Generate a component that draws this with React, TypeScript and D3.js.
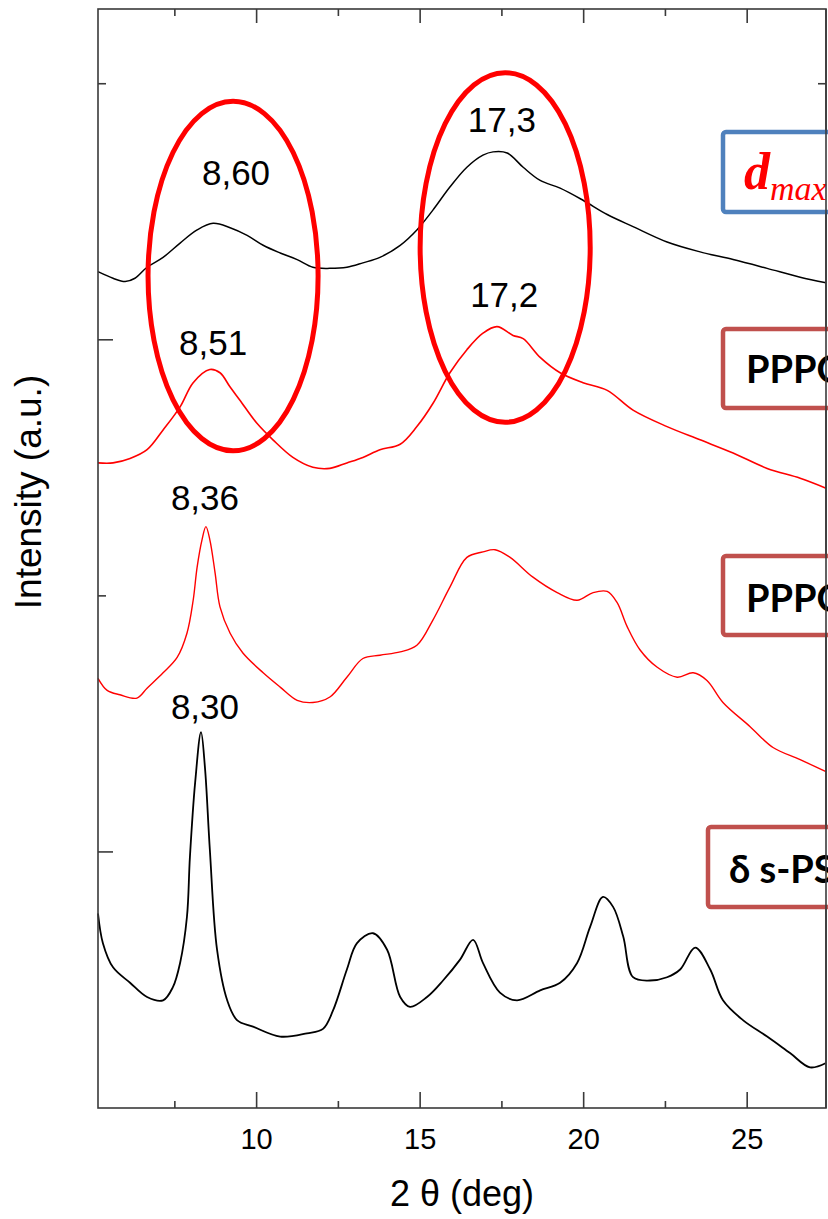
import React from 'react';
import * as d3 from 'd3';

const W = 828;
const H = 1219;
const M = { left: 98, right: 826, top: 9, bottom: 1108 };

const xDomain: [number, number] = [5.15, 27.41];
const yDomain: [number, number] = [0, 100];
const xMajorTicks = [10, 15, 20, 25];
const xMinorTicks = [7.5, 12.5, 17.5, 22.5];
const yMajorTicks = [23.3, 69.9];
const yMinorTicks = [46.6, 93.2];

// top black trace (2θ deg, intensity a.u.)
const traceTop: [number, number][] = [
  [5.15, 76.1], [5.61, 75.5], [5.98, 75.2], [6.28, 75.5], [6.65, 76.5], [7.14, 77.4],
  [7.66, 78.7], [8.18, 79.9], [8.67, 80.5], [9.19, 80.1], [9.71, 79.4], [10.2, 78.5],
  [10.72, 77.8], [11.24, 77.2], [11.72, 76.5], [12.24, 76.4], [12.76, 76.5], [13.25, 76.9],
  [13.77, 77.4], [14.39, 78.5], [14.9, 79.9], [15.39, 81.7], [15.91, 83.8], [16.43, 85.6],
  [16.92, 86.7], [17.23, 87.0], [17.66, 86.9], [18.15, 85.6], [18.67, 84.4], [19.28, 83.7],
  [19.98, 82.6], [20.72, 81.3], [21.51, 80.2], [22.55, 78.8], [23.56, 77.9], [24.57, 77.2],
  [25.61, 76.4], [26.62, 75.6], [27.41, 75.1],
];

// second (red) trace
const traceRed1: [number, number][] = [
  [5.15, 58.7], [5.61, 58.7], [6.13, 59.1], [6.65, 59.9], [7.14, 61.7], [7.66, 63.8],
  [8.06, 66.0], [8.57, 67.2], [8.88, 66.9], [9.19, 65.6], [9.49, 64.4], [10.01, 62.3],
  [10.5, 60.8], [11.11, 59.2], [11.72, 58.3], [12.24, 58.2], [12.76, 58.7], [13.25, 59.2],
  [13.77, 59.9], [14.39, 60.4], [14.9, 62.0], [15.39, 64.1], [15.91, 66.9], [16.43, 69.0],
  [16.92, 70.5], [17.35, 71.1], [17.84, 70.3], [18.15, 70.0], [18.67, 68.3], [19.28, 66.9],
  [19.98, 66.0], [20.72, 65.3], [21.51, 63.5], [22.55, 62.0], [23.56, 60.8], [24.57, 59.6],
  [25.61, 58.2], [26.62, 57.3], [27.41, 56.4],
];

// third (red) trace
const traceRed2: [number, number][] = [
  [5.15, 39.1], [5.43, 38.0], [5.82, 37.6], [6.34, 37.3], [6.65, 38.2], [7.14, 39.6],
  [7.57, 41.0], [7.87, 43.2], [8.06, 46.2], [8.18, 49.2], [8.33, 51.7], [8.45, 52.9],
  [8.57, 51.7], [8.73, 48.7], [8.88, 45.6], [9.19, 43.2], [9.58, 41.4], [10.2, 39.6],
  [10.72, 38.3], [11.24, 37.1], [11.72, 36.9], [12.24, 37.4], [12.76, 39.2], [13.25, 40.9],
  [13.77, 41.2], [14.39, 41.5], [14.9, 42.1], [15.39, 44.4], [15.91, 47.4], [16.43, 50.1],
  [16.92, 50.6], [17.29, 50.8], [17.75, 50.1], [18.45, 48.3], [19.19, 46.9], [19.8, 46.2],
  [20.29, 46.9], [20.72, 47.0], [21.02, 46.0], [21.33, 43.8], [21.72, 41.7], [22.25, 40.1],
  [22.86, 39.2], [23.35, 39.6], [23.77, 38.9], [24.26, 36.9], [25.09, 34.7], [25.79, 32.8],
  [26.62, 31.7], [27.41, 30.6],
];

// bottom black trace (δ s-PS)
const traceDelta: [number, number][] = [
  [5.15, 17.7], [5.3, 15.0], [5.61, 12.8], [6.13, 11.4], [6.65, 10.1], [7.14, 9.8],
  [7.44, 11.0], [7.66, 13.2], [7.87, 17.4], [7.96, 22.8], [8.12, 29.6], [8.3, 34.2],
  [8.42, 31.0], [8.57, 23.5], [8.79, 14.4], [9.1, 9.8], [9.4, 8.0], [9.89, 7.4],
  [10.72, 6.5], [11.54, 6.8], [12.03, 7.2], [12.34, 8.9], [12.76, 12.6], [13.07, 15.0],
  [13.56, 15.9], [13.99, 14.4], [14.39, 10.1], [14.69, 9.2], [15.21, 10.1], [15.7, 11.6],
  [16.22, 13.5], [16.62, 15.3], [16.92, 13.2], [17.44, 10.5], [17.96, 9.8], [18.67, 10.7],
  [19.28, 11.4], [19.8, 13.2], [20.2, 16.5], [20.59, 19.2], [20.9, 18.3], [21.21, 15.6],
  [21.51, 11.9], [22.03, 11.6], [22.55, 11.9], [22.95, 12.6], [23.41, 14.6], [23.87, 12.6],
  [24.26, 9.8], [24.87, 8.0], [25.61, 6.5], [26.31, 5.0], [26.92, 3.7], [27.41, 4.1],
];

const seriesColors = ['#000000', '#ff0000', '#ff0000', '#000000'];
const seriesWidths = [1.5, 1.6, 1.4, 1.8];
const seriesData = [traceTop, traceRed1, traceRed2, traceDelta];

const peakLabels = ['8,60', '17,3', '8,51', '17,2', '8,36', '8,30'];
const peakLabelX = [9.37, 17.5, 8.67, 17.57, 8.42, 8.42];
const peakLabelY = [84.0, 88.8, 68.5, 72.9, 54.4, 35.4];

const ellipseCx = [9.28, 17.6];
const ellipseCy = [75.7, 78.3];
const ellipseRx = [2.6, 2.6];
const ellipseRy = [15.9, 15.9];

const sans = '"Liberation Sans", Arial, sans-serif';

export default function App() {
  const x = d3.scaleLinear().domain(xDomain).range([M.left, M.right]);
  const y = d3.scaleLinear().domain(yDomain).range([M.bottom, M.top]);
  const line = d3
    .line<[number, number]>()
    .x((d) => x(d[0]))
    .y((d) => y(d[1]))
    .curve(d3.curveCatmullRom.alpha(0.5));

  const axisColor = '#3a3a3a';

  return (
    <svg
      width={W}
      height={H}
      style={{ position: 'absolute', left: 0, top: 0, background: '#fff' }}
    >
      <rect x={0} y={0} width={W} height={H} fill="#fff" />
      {seriesData.map((d, i) => (
        <path key={i} d={line(d) || ''} fill="none" stroke={seriesColors[i]} strokeWidth={seriesWidths[i]} strokeLinejoin="round" />
      ))}

      {/* frame */}
      <rect
        x={M.left}
        y={M.top}
        width={M.right - M.left}
        height={M.bottom - M.top}
        fill="none"
        stroke={axisColor}
        strokeWidth={1.6}
      />
      {xMajorTicks.map((t) => (
        <g key={'xM' + t}>
          <line x1={x(t)} x2={x(t)} y1={M.bottom} y2={M.bottom - 16} stroke={axisColor} strokeWidth={1.6} />
          <line x1={x(t)} x2={x(t)} y1={M.top} y2={M.top + 14} stroke={axisColor} strokeWidth={1.6} />
          <text x={x(t)} y={1149} textAnchor="middle" fontFamily={sans} fontSize={29} fill="#000">
            {t}
          </text>
        </g>
      ))}
      {xMinorTicks.map((t) => (
        <g key={'xm' + t}>
          <line x1={x(t)} x2={x(t)} y1={M.bottom} y2={M.bottom - 7} stroke={axisColor} strokeWidth={1.6} />
          <line x1={x(t)} x2={x(t)} y1={M.top} y2={M.top + 7} stroke={axisColor} strokeWidth={1.6} />
        </g>
      ))}
      {yMajorTicks.map((t) => (
        <g key={'yM' + t}>
          <line x1={M.left} x2={M.left + 15} y1={y(t)} y2={y(t)} stroke={axisColor} strokeWidth={1.6} />
          <line x1={M.right} x2={M.right - 15} y1={y(t)} y2={y(t)} stroke={axisColor} strokeWidth={1.6} />
        </g>
      ))}
      {yMinorTicks.map((t) => (
        <g key={'ym' + t}>
          <line x1={M.left} x2={M.left + 8} y1={y(t)} y2={y(t)} stroke={axisColor} strokeWidth={1.6} />
          <line x1={M.right} x2={M.right - 8} y1={y(t)} y2={y(t)} stroke={axisColor} strokeWidth={1.6} />
        </g>
      ))}

      {/* axis titles */}
      <text x={462} y={1206} textAnchor="middle" fontFamily={sans} fontSize={36} fill="#000">
        2 θ (deg)
      </text>
      <text
        transform="translate(41,492) rotate(-90)"
        textAnchor="middle"
        fontFamily={sans}
        fontSize={37}
        fill="#000"
      >
        Intensity (a.u.)
      </text>

      {/* peak labels */}
      {peakLabels.map((t, i) => (
        <text
          key={'pl' + i}
          x={x(peakLabelX[i])}
          y={y(peakLabelY[i])}
          textAnchor="middle"
          fontFamily={sans}
          fontSize={35}
          fill="#000"
        >
          {t}
        </text>
      ))}

      {/* ellipses */}
      {ellipseCx.map((cx, i) => (
        <ellipse
          key={'el' + i}
          cx={x(cx)}
          cy={y(ellipseCy[i])}
          rx={x(cx + ellipseRx[i]) - x(cx)}
          ry={y(ellipseCy[i] - ellipseRy[i]) - y(ellipseCy[i])}
          fill="none"
          stroke="#ff0000"
          strokeWidth={5}
        />
      ))}

      {/* boxes */}
      <rect x={723} y={132} width={200} height={80} rx={3} fill="#fff" stroke="#4f81bd" strokeWidth={4.5} />
      <text x={744} y={189} fontFamily='"Liberation Serif", "Times New Roman", serif' fontStyle="italic" fontWeight="bold" fontSize={52} fill="#ff0000">
        d
        <tspan fontSize={34} fontWeight="normal" dy={11}>max</tspan>
      </text>

      <rect x={723} y={329} width={200} height={79} rx={3} fill="#fff" stroke="#c0504d" strokeWidth={4.5} />
      <text x={746} y={383} fontFamily="Lato, 'Open Sans', sans-serif" fontWeight="bold" fontSize={38} fill="#000">
        PPPO
      </text>

      <rect x={723} y={556} width={200} height={79} rx={3} fill="#fff" stroke="#c0504d" strokeWidth={4.5} />
      <text x={746} y={612} fontFamily="Lato, 'Open Sans', sans-serif" fontWeight="bold" fontSize={38} fill="#000">
        PPPO
      </text>

      <rect x={708} y={827} width={200} height={80} rx={3} fill="#fff" stroke="#c0504d" strokeWidth={4.5} />
      <text x={729} y={883} fontFamily="Lato, 'Open Sans', sans-serif" fontWeight="bold" fontSize={38} fill="#000">
        δ s-PS
      </text>

      <line x1={M.right} x2={M.right} y1={M.top} y2={M.bottom} stroke={axisColor} strokeWidth={1.6} />
    </svg>
  );
}
